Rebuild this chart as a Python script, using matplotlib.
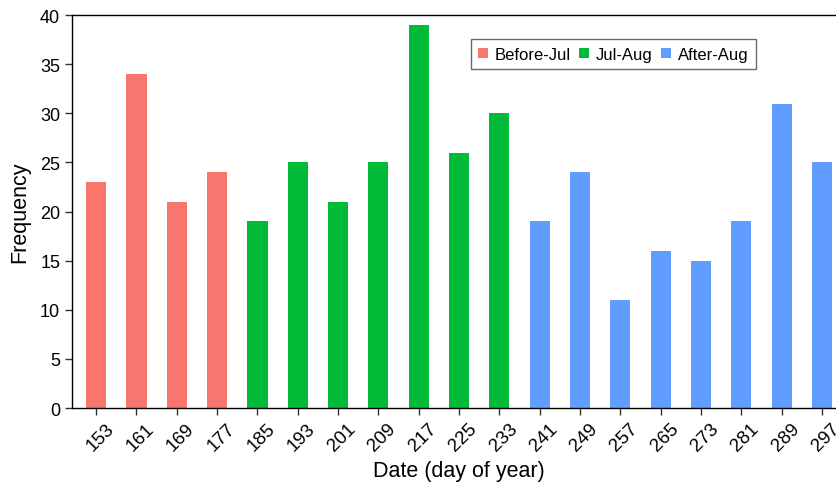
import matplotlib
matplotlib.use("Agg")
import matplotlib.pyplot as plt
import matplotlib.transforms as mtransforms
from matplotlib.patches import Patch

plt.rcParams['font.family'] = ['Liberation Sans', 'DejaVu Sans']

days = [153, 161, 169, 177, 185, 193, 201, 209, 217, 225, 233,
        241, 249, 257, 265, 273, 281, 289, 297]
freq = [23, 34, 21, 24, 19, 25, 21, 25, 39, 26, 30,
        19, 24, 11, 16, 15, 19, 31, 25]
period = ['Before-Jul'] * 4 + ['Jul-Aug'] * 7 + ['After-Aug'] * 8
period_names = ['Before-Jul', 'Jul-Aug', 'After-Aug']
period_colors = {'Before-Jul': '#F8766D', 'Jul-Aug': '#00BA38', 'After-Aug': '#619CFF'}

fig = plt.figure(figsize=(8.36, 4.85), dpi=100)
ax = fig.add_axes([0.0861, 0.1567, 0.926, 0.810])

x = list(range(len(days)))
ax.bar(x, freq, width=0.5, color=[period_colors[p] for p in period])

ax.set_xlim(-0.6, len(days) - 0.4)
ax.set_ylim(0, 40)
ax.set_yticks(range(0, 41, 5))
ax.set_xticks(x)
ax.set_xticklabels([str(d) for d in days], rotation=45, ha='center')

ax.tick_params(axis='both', direction='out', length=5, width=1,
               color='#333333', labelcolor='black')
ax.tick_params(axis='y', labelsize=13)
ax.tick_params(axis='x', labelsize=13.5)

# nudge the slanted day labels slightly to the right of their ticks
shift = mtransforms.ScaledTranslation(4 / 100, 0, fig.dpi_scale_trans)
for lbl in ax.get_xticklabels():
    lbl.set_transform(lbl.get_transform() + shift)

for s in ax.spines.values():
    s.set_linewidth(1.0)
    s.set_color('black')

ax.set_xlabel('Date (day of year)', fontsize=15.5, labelpad=4)
ax.set_ylabel('Frequency', fontsize=15.5, labelpad=7)

handles = [Patch(facecolor=period_colors[p], label=p) for p in period_names]
leg = ax.legend(handles=handles, ncol=3, loc='center', bbox_to_anchor=(0.699, 0.9),
                fontsize=12, frameon=True, fancybox=False, edgecolor='#444444',
                handlelength=0.6, handleheight=0.6, handletextpad=0.4,
                columnspacing=0.5, borderpad=0.45)
leg.get_frame().set_linewidth(1.0)

fig.savefig('out.png', dpi=100)
